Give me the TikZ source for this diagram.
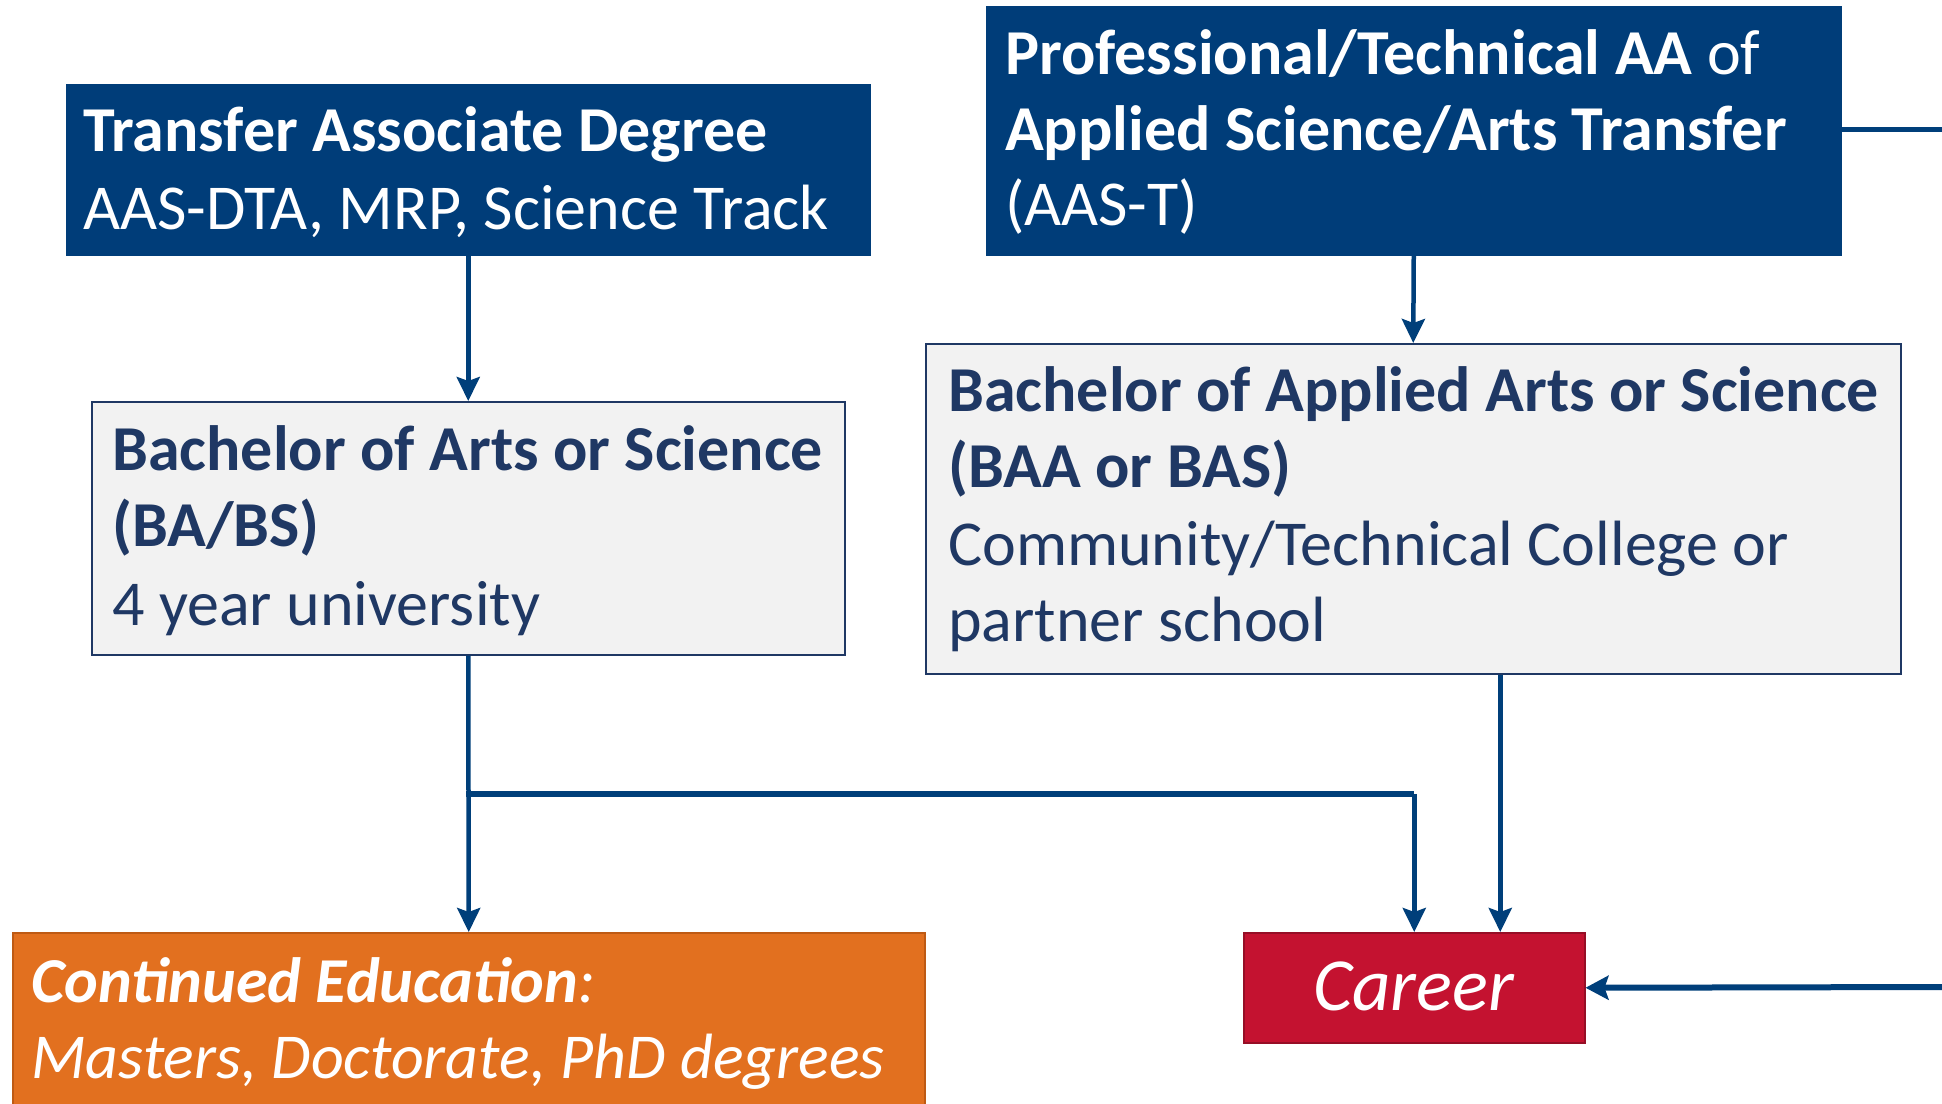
\documentclass[tikz,border=0pt]{standalone}
\usepackage{fontspec}
\setmainfont{Carlito}
\usetikzlibrary{arrows.meta,calc}
\definecolor{darkblue}{RGB}{0,61,121}
\definecolor{navytext}{RGB}{31,56,100}
\definecolor{lightfill}{RGB}{242,242,242}
\definecolor{lineblue}{RGB}{0,63,122}
\definecolor{orangefill}{RGB}{226,112,31}
\definecolor{orangeline}{RGB}{190,90,20}
\definecolor{redfill}{RGB}{196,18,48}
\definecolor{redline}{RGB}{150,14,38}
\tikzset{
  box/.style={anchor=north west, inner sep=0pt, line width=1.5pt},
  darkbox/.style={box, draw=darkblue, fill=darkblue},
  lightbox/.style={box, draw=navytext, fill=lightfill},
  orangebox/.style={box, draw=orangeline, fill=orangefill},
  redbox/.style={box, draw=redline, fill=redfill},
  txt/.style={anchor=base west, inner sep=0pt, font=\fontsize{64}{77}\selectfont},
  wtxt/.style={txt, text=white},
  ntxt/.style={txt, text=navytext},
  conn/.style={draw=lineblue, line width=4.5pt},
  arr/.style={conn, -{Stealth[length=24pt,width=23pt,inset=4pt]}},
}
\begin{document}
\begin{tikzpicture}[x=1pt,y=-1pt]
\clip (0,0) rectangle (1942,1103);
\fill[white] (0,0) rectangle (1942,1103);
% boxes
\node[darkbox, minimum width=803pt, minimum height=170pt] (tad) at (66,84) {};
\node[darkbox, minimum width=854pt, minimum height=248pt] (ptaa) at (986,6) {};
\node[lightbox, minimum width=753pt, minimum height=253pt] (ba) at (91,401) {};
\node[lightbox, minimum width=975pt, minimum height=330pt] (baa) at (925,343) {};
\node[orangebox, minimum width=912pt, minimum height=200pt] (cont) at (12,932) {};
\node[redbox, minimum width=341pt, minimum height=110pt] (career) at (1243,932) {};
% texts
\node[wtxt] (tad1) at (83,151) {\bfseries Transfer Associate Degree};
\node[wtxt] (tad2) at (83,229) {AAS-DTA, MRP, Science Track};
\node[wtxt] (pt1) at (1005,74) {\textbf{Professional/Technical AA} of};
\node[wtxt] (pt2) at (1005,150) {\bfseries Applied Science/Arts Transfer};
\node[wtxt] (pt3) at (1005,225) {(AAS-T)};
\node[ntxt] (ba1) at (112,470) {\bfseries Bachelor of Arts or Science};
\node[ntxt] (ba2) at (112,546) {\bfseries (BA/BS)};
\node[ntxt] (ba3) at (112,625) {4 year university};
\node[ntxt] (baa1) at (948,411) {\bfseries Bachelor of Applied Arts or Science};
\node[ntxt] (baa2) at (948,487) {\bfseries (BAA or BAS)};
\node[ntxt] (baa3) at (948,565) {Community/Technical College or};
\node[ntxt] (baa4) at (948,641) {partner school};
\node[wtxt] (co1) at (31,1002) {\itshape\textbf{Continued Education}:};
\node[wtxt] (co2) at (31,1078) {\itshape Masters, Doctorate, PhD degrees};
\node[wtxt, anchor=base, font=\fontsize{75}{86}\selectfont\itshape] (car) at (1413.5,1010) {Career};
% connectors
\coordinate (j) at ($(ba.south)!0.5!(cont.north)$);
\coordinate (e1) at (1942,129);
\coordinate (e2) at (1942,987);
\coordinate (b1) at ([xshift=87pt]baa.south);
\draw[arr] (tad.south) -- (ba.north);
\draw[arr] (ptaa.south) -- (baa.north);
\draw[arr] (ba.south) -- (cont.north);
\draw[conn, line width=6pt] ([xshift=-2.25pt]j) -- (j -| career.north);
\draw[arr] (j -| career.north) -- (career.north);
\draw[arr] (b1) -- (b1 |- career.north);
\draw[conn, line width=5pt] (ptaa.east |- e1) -- (e1);
\draw[conn, line width=6pt, -{Stealth[length=23pt,width=24pt,inset=4pt]}] (e2) -- (career.east);
\end{tikzpicture}
\end{document}
